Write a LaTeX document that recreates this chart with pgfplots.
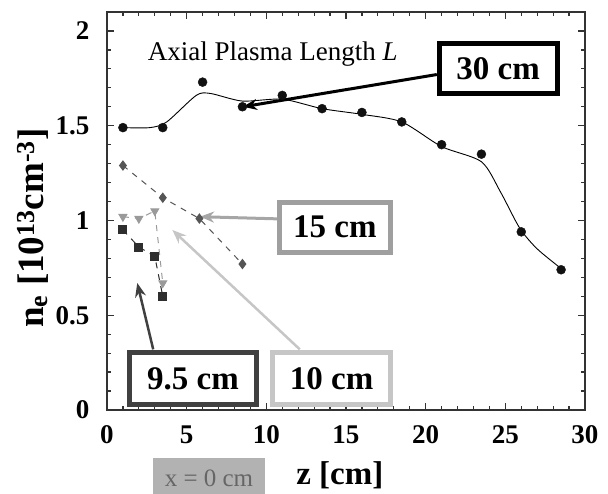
\documentclass[border=0pt]{standalone}
\usepackage{fontspec}
\setmainfont{Liberation Serif}
\usepackage{pgfplots}
\pgfplotsset{compat=1.18}
\usetikzlibrary{arrows.meta,calc}
\definecolor{cA}{HTML}{111111}
\definecolor{cB}{HTML}{555555}
\definecolor{cC}{HTML}{9A9A9A}
\definecolor{cD}{HTML}{2E2E2E}
\begin{document}
\begin{tikzpicture}
\begin{axis}[
  scale only axis, width=478pt, height=398pt,
  xmin=0, xmax=30, ymin=0, ymax=2.1,
  xtick={0,5,...,30}, ytick={0,0.5,1,1.5,2},
  minor x tick num=4, minor y tick num=4,
  tick align=inside, major tick length=7pt, minor tick length=4pt,
  axis line style={line width=1.6pt, black!80},
  every tick/.style={black!80, line width=1.2pt},
  /pgf/number format/assume math mode=true,
  ticklabel style={font=\bfseries\fontsize{27}{27}\selectfont},
  xticklabel style={yshift=-12pt}, yticklabel style={xshift=-14pt},
  xlabel={z [cm]},
  ylabel={n\textsubscript{e} [10\textsuperscript{13}cm\textsuperscript{-3}]},
  label style={font=\bfseries\fontsize{33}{33}\selectfont},
  ylabel style={font=\bfseries\fontsize{37}{37}\selectfont},
  xlabel style={at={(axis description cs:0.487,-0.163)}, anchor=center},
  ylabel style={at={(axis description cs:-0.155,0.457)}, anchor=center, rotate=0},
  clip=false,
]
% 30 cm smooth line
\addplot[black, line width=0.9pt, smooth, tension=0.45] coordinates {
 (1,1.49) (2.7,1.49) (3.75,1.52) (5.6,1.66) (6.5,1.67) (8.5,1.63) (11,1.64)
 (13.5,1.59) (16,1.56) (18.5,1.52) (21,1.39) (23.5,1.31) (24.7,1.15) (25.9,0.96)
 (27,0.85) (28.6,0.74)};
\addplot[only marks, mark=*, mark size=4.5pt, cA] coordinates {
 (1,1.49) (3.5,1.49) (6,1.73) (8.5,1.60) (11,1.66) (13.5,1.59) (16,1.57)
 (18.5,1.52) (21,1.40) (23.5,1.35) (26,0.94) (28.5,0.74)};
% 15 cm
\addplot[cB, line width=1pt, dash pattern=on 6pt off 6pt, mark=diamond*, mark size=4.5pt, mark options={solid}] coordinates {
 (1,1.29) (3.5,1.12) (5.8,1.01) (8.5,0.77)};
% 10 cm
\addplot[cC, line width=1pt, dash pattern=on 6pt off 6pt, mark=triangle*, mark size=4.5pt, mark options={solid, rotate=180}] coordinates {
 (1,1.02) (2,1.01) (3,1.05) (3.5,0.67)};
% 9.5 cm
\addplot[cD, line width=1pt, dash pattern=on 6pt off 6pt, mark=square*, mark size=4pt, mark options={solid}] coordinates {
 (1,0.95) (2,0.86) (3,0.81) (3.5,0.60)};

% annotations
\node[font=\fontsize{27}{27}\selectfont] at (axis cs:10.4,1.88) {Axial Plasma Length \textit{L}};
\draw[-{Stealth[length=14pt,width=11pt]}, line width=3pt, black] (axis cs:20.7,1.77) -- (axis cs:8.54,1.60);
\draw[-{Stealth[length=14pt,width=11pt]}, line width=3pt, gray!70] (axis cs:14.3,1.0) -- (axis cs:5.84,1.02);
\draw[-{Stealth[length=14pt,width=11pt]}, line width=2.5pt, black!75] (axis cs:2.9,0.32) -- (axis cs:1.9,0.67);
\draw[-{Stealth[length=14pt,width=11pt]}, line width=2.5pt, gray!45] (axis cs:12.1,0.32) -- (axis cs:4.1,0.95);
\node[draw=black, line width=5pt, fill=white, minimum width=118pt, minimum height=50pt, inner sep=0pt,
  font=\bfseries\fontsize{33}{33}\selectfont] at (axis cs:24.55,1.80) {30 cm};
\node[draw=gray!75, line width=5pt, fill=white, minimum width=111pt, minimum height=50pt, inner sep=0pt,
  font=\bfseries\fontsize{33}{33}\selectfont] at (axis cs:14.3,0.965) {15 cm};
\node[draw=black!75, line width=5pt, fill=white, minimum width=127pt, minimum height=52pt, inner sep=0pt,
  font=\bfseries\fontsize{33}{33}\selectfont] at (axis cs:5.4,0.167) {9.5 cm};
\node[draw=gray!45, line width=5pt, fill=white, minimum width=118pt, minimum height=52pt, inner sep=0pt,
  font=\bfseries\fontsize{33}{33}\selectfont] at (axis cs:14.1,0.167) {10 cm};
\node[fill=gray!60, text=black!60, minimum width=112pt, minimum height=40pt, inner sep=0pt,
  font=\fontsize{25}{25}\selectfont] at (axis cs:6.4,-0.36) {x = 0 cm};
\end{axis}
\pgfresetboundingbox
\path[use as bounding box] ($(current axis.south west)+(-107pt,-83pt)$) rectangle ($(current axis.north east)+(23pt,12pt)$);
\end{tikzpicture}
\end{document}
